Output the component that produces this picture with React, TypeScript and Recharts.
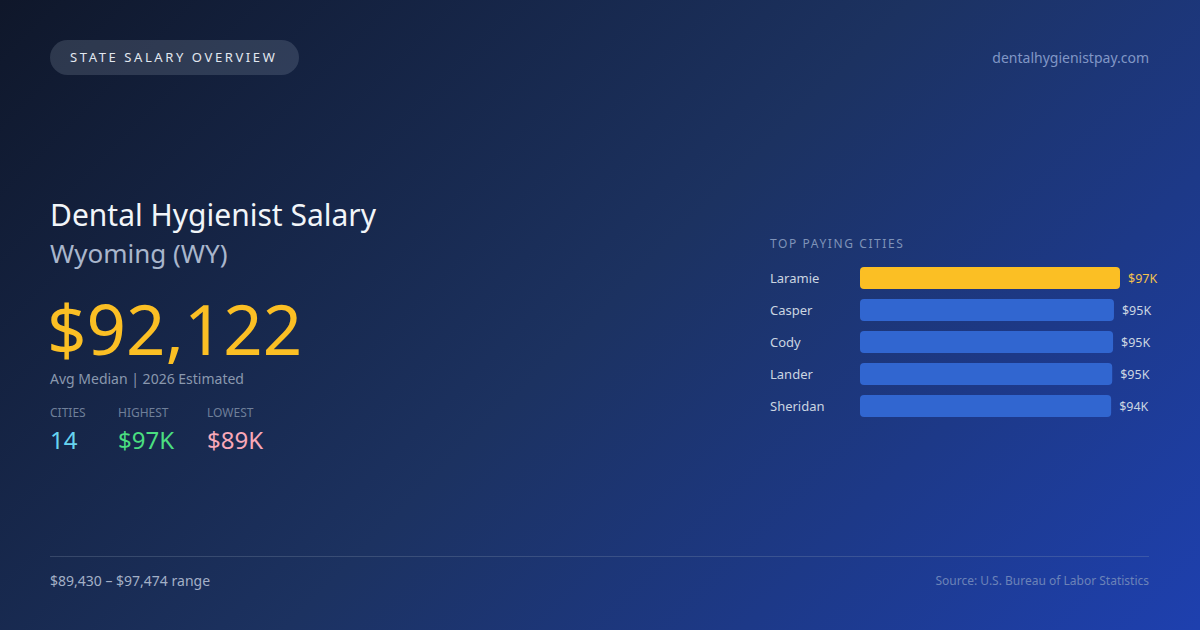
import React from 'react';
import { BarChart, Bar, XAxis, YAxis, Cell, LabelList } from 'recharts';

const cities = ['Laramie', 'Casper', 'Cody', 'Lander', 'Sheridan'];
const salaries = [97474, 95210, 94870, 94560, 94150];
const barColors = ['#fbbf24', '#3166d0', '#3166d0', '#3166d0', '#3166d0'];
const labelColors = ['#f2c14e', '#cbd5e1', '#cbd5e1', '#cbd5e1', '#cbd5e1'];

const statLabels = ['CITIES', 'HIGHEST', 'LOWEST'];
const statValues = ['14', '$97K', '$89K'];
const statColors = ['#67d4f0', '#4ade80', '#f9a8b8'];

const FONT = '"Noto Sans", "DejaVu Sans", sans-serif';

const chartData = cities.map((city, i) => ({ city, salary: salaries[i], idx: i }));

const fmtK = (v: number) => '$' + Math.round(v / 1000) + 'K';

const CityTick = (props: any) => {
    const { y, payload } = props;
    return (
        <text x={0} y={y} dy={4.5} textAnchor="start" fill="#cbd5e1" fontSize={13} fontFamily={FONT}>
            {payload.value}
        </text>
    );
};

const ValueLabel = (props: any) => {
    const { x, y, width, height, value, index } = props;
    return (
        <text
            x={x + width + 8}
            y={y + height / 2}
            dy={4.5}
            textAnchor="start"
            fill={labelColors[index]}
            fontSize={12.5}
            fontFamily={FONT}
        >
            {fmtK(value)}
        </text>
    );
};

export default function App() {
    return (
        <div
            style={{
                position: 'fixed',
                top: 0,
                left: 0,
                width: 1200,
                height: 630,
                overflow: 'hidden',
                fontFamily: FONT,
                background: 'linear-gradient(135deg, #0f172a 0%, #1c3261 50%, #1e40af 100%)',
            }}
        >
            {/* header pill */}
            <div
                style={{
                    position: 'absolute', left: 50, top: 40, width: 249, height: 35,
                    borderRadius: 18, background: 'rgba(148,163,184,0.22)',
                    color: '#e2e8f0', fontSize: 13, letterSpacing: 2.6,
                    lineHeight: '35px', paddingLeft: 20, boxSizing: 'border-box', whiteSpace: 'nowrap',
                }}
            >
                STATE SALARY OVERVIEW
            </div>
            <div style={{ position: 'absolute', right: 51, top: 48, fontSize: 14, color: '#8197c6', lineHeight: '20px' }}>
                dentalhygienistpay.com
            </div>

            {/* left block */}
            <div style={{ position: 'absolute', left: 50, top: 195, fontSize: 30, color: '#f1f5f9', lineHeight: '40px', whiteSpace: 'nowrap' }}>
                Dental Hygienist Salary
            </div>
            <div style={{ position: 'absolute', left: 50, top: 235, fontSize: 26, color: '#a9b6cc', lineHeight: '36px', whiteSpace: 'nowrap' }}>
                Wyoming (WY)
            </div>
            <div style={{ position: 'absolute', left: 47, top: 293, fontSize: 69, color: '#fbbf24', lineHeight: '70px', whiteSpace: 'nowrap' }}>
                $92,122
            </div>
            <div style={{ position: 'absolute', left: 50, top: 369, fontSize: 14, color: '#8a98ae', lineHeight: '20px', whiteSpace: 'nowrap' }}>
                Avg Median | 2026 Estimated
            </div>
            {statLabels.map((lab, i) => (
                <div key={lab} style={{ position: 'absolute', left: [50, 118, 207][i], top: 405 }}>
                    <div style={{ fontSize: 12, color: '#6f7f99', lineHeight: '16px' }}>{lab}</div>
                    <div style={{ fontSize: 24, color: statColors[i], lineHeight: '30px', marginTop: 4 }}>{statValues[i]}</div>
                </div>
            ))}

            {/* right block */}
            <div style={{ position: 'absolute', left: 770, top: 236, fontSize: 12, color: '#7f93b8', letterSpacing: 1.6, lineHeight: '16px', whiteSpace: 'nowrap' }}>
                TOP PAYING CITIES
            </div>
            <div style={{ position: 'absolute', left: 770, top: 262 }}>
                <BarChart
                    width={400}
                    height={160}
                    data={chartData}
                    layout="vertical"
                    margin={{ top: 0, right: 50, bottom: 0, left: 0 }}
                    barSize={22}
                    barCategoryGap={10}
                >
                    <XAxis type="number" hide domain={[0, 97474]} />
                    <YAxis type="category" dataKey="city" width={90} axisLine={false} tickLine={false} tick={<CityTick />} />
                    <Bar dataKey="salary" radius={4} isAnimationActive={false}>
                        {chartData.map((d, i) => (
                            <Cell key={d.city} fill={barColors[i]} />
                        ))}
                        <LabelList dataKey="salary" content={<ValueLabel />} />
                    </Bar>
                </BarChart>
            </div>

            {/* footer */}
            <div style={{ position: 'absolute', left: 50, top: 556, width: 1099, height: 1, background: 'rgba(148,163,184,0.25)' }} />
            <div style={{ position: 'absolute', left: 50, top: 571, fontSize: 14, color: '#a3b0c6', lineHeight: '20px', whiteSpace: 'nowrap' }}>
                $89,430 – $97,474 range
            </div>
            <div style={{ position: 'absolute', right: 51, top: 572, fontSize: 12, color: '#6c83b8', lineHeight: '18px', whiteSpace: 'nowrap' }}>
                Source: U.S. Bureau of Labor Statistics
            </div>
        </div>
    );
}
